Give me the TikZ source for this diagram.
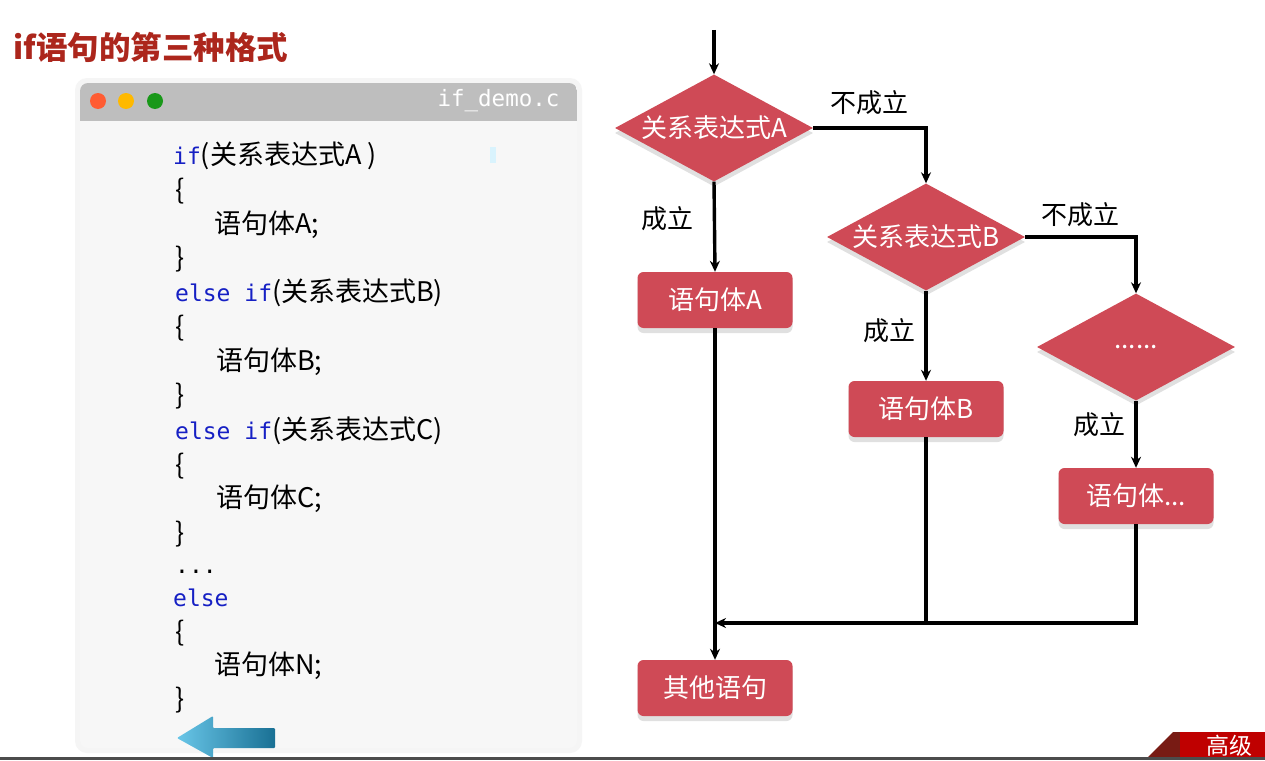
\documentclass[tikz,border=0pt]{standalone}
\usepackage{fontspec}
\setmainfont{Noto Sans CJK SC}
\newfontfamily\codemono{DejaVu Sans Mono}
\usetikzlibrary{shapes.geometric,shadows,arrows.meta}
\definecolor{boxred}{RGB}{207,74,86}
\definecolor{titlered}{RGB}{172,38,28}
\definecolor{kwblue}{RGB}{22,32,196}
\definecolor{bargray}{RGB}{190,190,190}
\definecolor{panegray}{RGB}{247,247,247}
\tikzset{
  boxshadow/.style={drop shadow={shadow xshift=0pt,shadow yshift=-5pt,fill=black!12,opacity=1}},
  decision/.style={diamond,fill=boxred,text=white,inner sep=0pt,aspect=1.85,
    minimum width=198pt,minimum height=107pt,font=\fontsize{26}{30}\selectfont,boxshadow},
  stmt/.style={rectangle,rounded corners=6pt,fill=boxred,text=white,
    minimum width=155pt,minimum height=56pt,font=\fontsize{26}{30}\selectfont,boxshadow},
  flow/.style={line width=3.4pt,-{Stealth[length=11pt,width=10pt]}},
  link/.style={line width=3.4pt},
  cond/.style={font=\fontsize{26}{30}\selectfont},
  codeline/.style={anchor=west,inner sep=0pt,text height=20pt,text depth=6pt,
    font=\fontsize{27}{30}\selectfont}
}
\newcommand{\kw}[1]{{\codemono\fontsize{23}{26}\selectfont\color{kwblue}#1}}
\begin{document}
\begin{tikzpicture}[x=1pt,y=-1pt]
 \useasboundingbox (0,0) rectangle (1265,760);
 \fill[white] (0,0) rectangle (1265,760);
 % title
 \node[anchor=west,text=titlered,font=\fontsize{31.5}{36}\selectfont\bfseries] (title) at (10,47) {if语句的第三种格式};
 % code window
 \fill[black!4,rounded corners=12pt] (75,78) rectangle (582,753);
 \fill[panegray,rounded corners=8pt] (80,83) rectangle (577,748);
 \begin{scope}
  \clip[rounded corners=8pt] (80,83) rectangle (577,748);
  \fill[bargray] (80,83) rectangle (577,121);
 \end{scope}
 \fill[red!60!orange!80!white] (98,101) circle (8);
 \fill[orange!55!yellow] (126,101) circle (8);
 \fill[green!55!black!90!white] (155,101) circle (8);
 \node[anchor=east,text=white,font=\codemono\fontsize{22.5}{26}\selectfont] (fname) at (563,101) {if\_demo.c};
 \fill[cyan!15] (490,147) rectangle (496,163);
 \node[codeline] (c1) at (173,157) {\kw{if}(关系表达式A\ )};
 \node[codeline] (c2) at (175,192) {\{};
 \node[codeline] (c3) at (214,226) {语句体A;};
 \node[codeline] (c4) at (175,260) {\}};
 \node[codeline] (c5) at (175,294) {\kw{else if}(关系表达式B)};
 \node[codeline] (c6) at (175,329) {\{};
 \node[codeline] (c7) at (216,363) {语句体B;};
 \node[codeline] (c8) at (175,397) {\}};
 \node[codeline] (c9) at (175,432) {\kw{else if}(关系表达式C)};
 \node[codeline] (c10) at (175,467) {\{};
 \node[codeline] (c11) at (216,500) {语句体C;};
 \node[codeline] (c12) at (175,535) {\}};
 \node[codeline,font=\codemono\fontsize{23}{26}\selectfont] (c13) at (175,566) {...};
 \node[codeline] (c14) at (173,599) {\kw{else}};
 \node[codeline] (c15) at (175,634) {\{};
 \node[codeline] (c16) at (214,667) {语句体N;};
 \node[codeline] (c17) at (175,701) {\}};
 % back arrow
 \shade[left color={rgb,255:red,105;green,198;blue,232},right color={rgb,255:red,25;green,112;blue,148},rounded corners=1pt]
  (177,738) -- (213,716) -- (213,728) -- (275,728) -- (275,748) -- (213,748) -- (213,758) -- cycle;
 % flowchart
 \coordinate (entry) at (714,30);
 \node[decision] (decA) at (714,128) {关系表达式A};
 \node[decision] (decB) at (926,237) {关系表达式B};
 \node[decision] (decC) at (1136,347) {......};
 \node[stmt] (bodyA) at (715,300) {语句体A};
 \node[stmt] (bodyB) at (926,409) {语句体B};
 \node[stmt] (bodyC) at (1136,496) {语句体...};
 \node[stmt] (rest) at (715,688) {其他语句};
 \coordinate (merge) at (715,623);
 \draw[flow] (entry) -- (decA.north);
 \draw[flow] (decA.east) -| (decB.north);
 \draw[flow] (decB.east) -| (decC.north);
 \draw[flow] (decA.south) -- (bodyA.north);
 \draw[flow] (decB.south) -- (bodyB.north);
 \draw[flow] (decC.south) -- (bodyC.north);
 \draw[flow] (bodyA.south) -- (rest.north);
 \draw[link] (bodyB.south) -- (bodyB.south |- merge);
 \draw[flow] (bodyC.south) |- (merge);
 \node[cond] (noA) at (869,103) {不成立};
 \node[cond] (yesA) at (667,219) {成立};
 \node[cond] (noB) at (1080,215) {不成立};
 \node[cond] (yesB) at (889,331) {成立};
 \node[cond] (yesC) at (1099,425) {成立};
 % corner banner
 \fill[titlered!70!black] (1148,757) -- (1173,732) -- (1195,732) -- (1195,757) -- cycle;
 \fill[red!75!black] (1180,732) rectangle (1265,757);
 \node[anchor=west,text=white,font=\fontsize{23}{26}\selectfont] (banner) at (1203,746) {高级};
 \fill[black!70] (0,757) rectangle (1265,760);
\end{tikzpicture}
\end{document}
